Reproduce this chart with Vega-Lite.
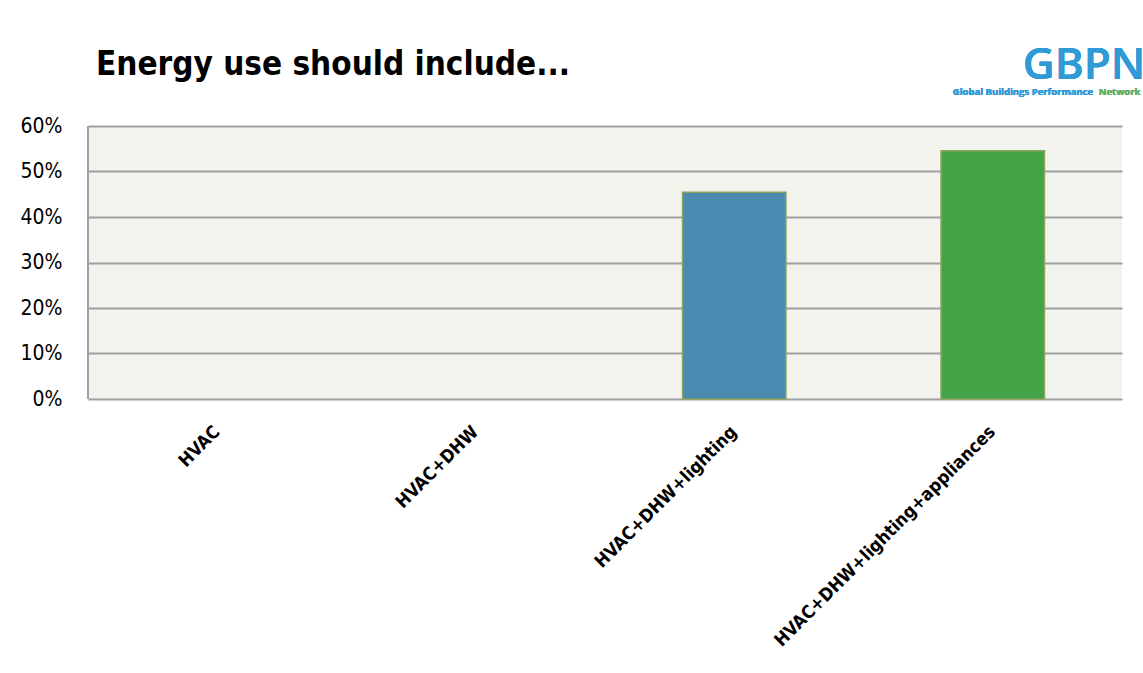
{
  "$schema": "https://vega.github.io/schema/vega-lite/v6.json",
  "autosize": "none",
  "width": 1034,
  "height": 273,
  "padding": {"left": 88, "top": 126, "right": 21, "bottom": 274},
  "background": "white",
  "title": {
    "text": "Energy use should include...",
    "anchor": "start",
    "font": "DejaVu Sans Condensed",
    "fontWeight": "bold",
    "fontSize": 33,
    "color": "#000000",
    "baseline": "alphabetic",
    "dx": 76,
    "dy": 104,
    "offset": 40
  },
  "data": {
    "values": [
      {"category": "HVAC", "share": 0, "group": "a"},
      {"category": "HVAC+DHW", "share": 0, "group": "b"},
      {"category": "HVAC+DHW+lighting", "share": 0.4545, "group": "c"},
      {"category": "HVAC+DHW+lighting+appliances", "share": 0.5455, "group": "d"}
    ]
  },
  "config": {
    "view": {"fill": "#F1F3EC", "stroke": null},
    "axis": {"domain": false, "ticks": false}
  },
  "layer": [
    {
      "mark": {"type": "bar", "stroke": "#8CA35C", "strokeWidth": 1.5},
      "encoding": {
        "x": {
          "field": "category",
          "type": "nominal",
          "sort": null,
          "scale": {"paddingInner": 0.6, "paddingOuter": 0.3},
          "axis": {
            "title": null,
            "labelAngle": -45,
            "labelAlign": "right",
            "labelBaseline": "middle",
            "labelFont": "DejaVu Sans Condensed",
            "labelFontWeight": "bold",
            "labelFontSize": 18,
            "labelColor": "#000000",
            "labelPadding": 30,
            "labelLimit": 0,
            "labelOverlap": false
          }
        },
        "y": {
          "field": "share",
          "type": "quantitative",
          "scale": {"domain": [0, 0.6]},
          "axis": {
            "title": null,
            "format": ".0%",
            "values": [0, 0.1, 0.2, 0.3, 0.4, 0.5, 0.6],
            "labelFont": "DejaVu Sans Condensed",
            "labelFontSize": 21,
            "labelColor": "#000000",
            "labelPadding": 26,
            "gridColor": "#A0A0A0",
            "gridWidth": 2,
            "gridOpacity": 1
          }
        },
        "color": {
          "field": "group",
          "type": "nominal",
          "scale": {"domain": ["a", "b", "c", "d"], "range": ["#4A89B0", "#4A89B0", "#4A89B0", "#44A347"]},
          "legend": null
        },
        "strokeOpacity": {"condition": {"test": "datum.share > 0", "value": 1}, "value": 0}
      }
    },
    {
      "mark": {"type": "rule", "color": "#A0A0A0", "strokeWidth": 2},
      "encoding": {
        "x": {"value": 0},
        "y": {"datum": 0},
        "y2": {"datum": 0.6}
      }
    },
    {
      "mark": {"type": "text", "align": "left", "baseline": "alphabetic", "dx": 30, "font": "Open Sans", "fontWeight": 600, "fontSize": 44, "color": "#2E9AD6"},
      "encoding": {
        "x": {"datum": "HVAC+DHW+lighting+appliances"},
        "y": {"datum": 0.703},
        "text": {"value": "GBPN"}
      }
    },
    {
      "mark": {"type": "text", "align": "left", "baseline": "alphabetic", "dx": -40, "font": "Open Sans", "fontWeight": "bold", "fontSize": 9.5, "color": "#2E9AD6"},
      "encoding": {
        "x": {"datum": "HVAC+DHW+lighting+appliances"},
        "y": {"datum": 0.668},
        "text": {"value": "Global Buildings Performance"}
      }
    },
    {
      "mark": {"type": "text", "align": "left", "baseline": "alphabetic", "dx": 106, "font": "Open Sans", "fontWeight": "bold", "fontSize": 9.5, "color": "#5DB06A"},
      "encoding": {
        "x": {"datum": "HVAC+DHW+lighting+appliances"},
        "y": {"datum": 0.668},
        "text": {"value": "Network"}
      }
    }
  ]
}
